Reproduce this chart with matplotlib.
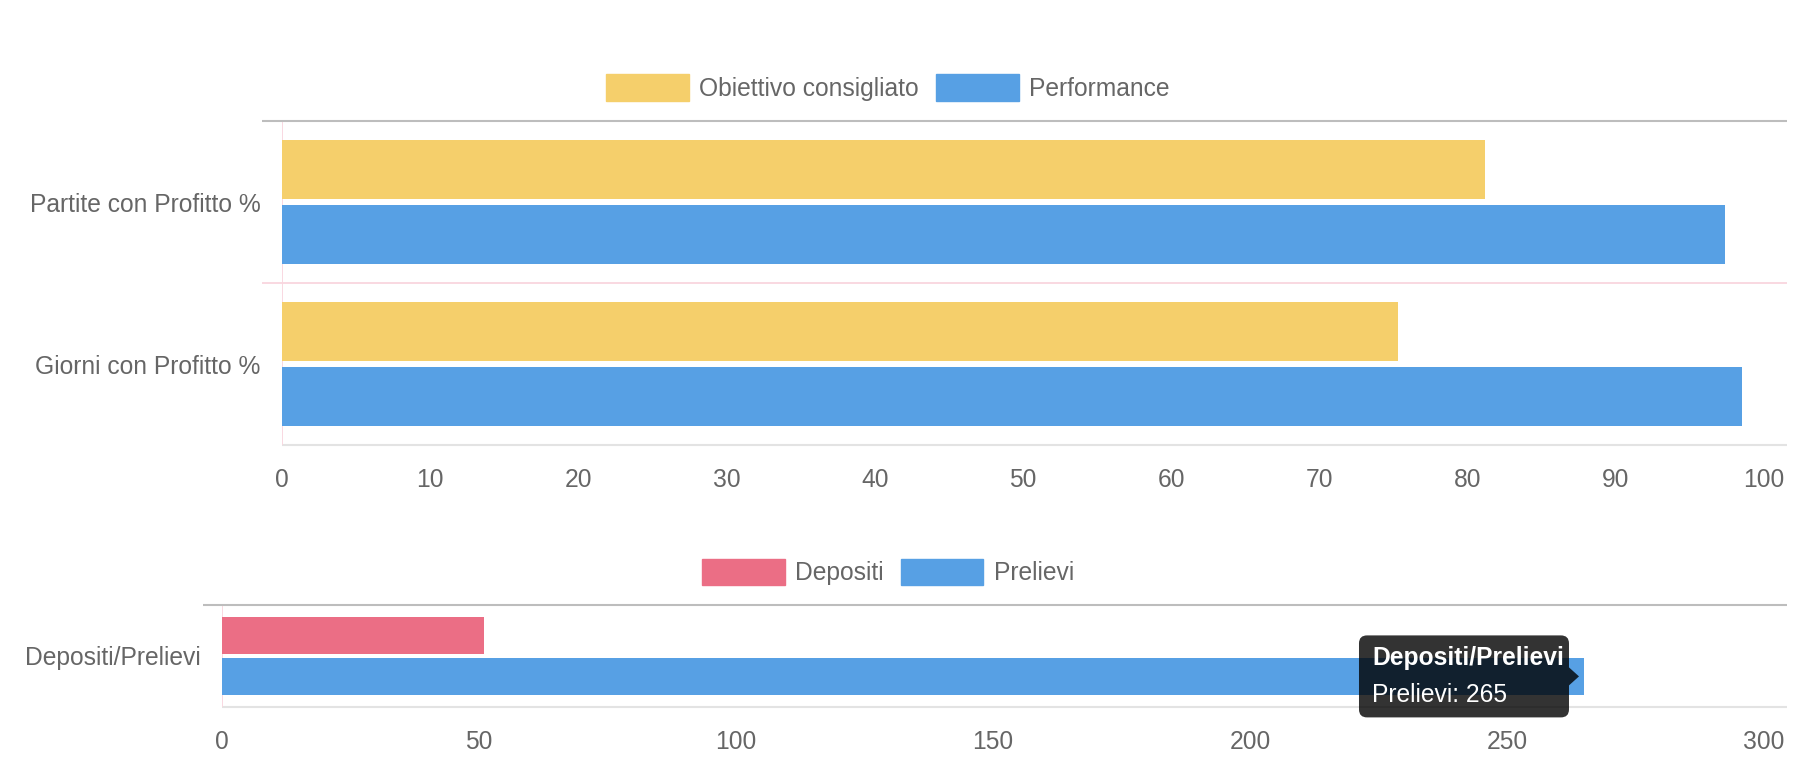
import matplotlib
matplotlib.use("Agg")
import matplotlib.pyplot as plt
from matplotlib.patches import FancyBboxPatch, Polygon, Patch
from matplotlib.transforms import IdentityTransform

plt.rcParams['font.family'] = ['Liberation Sans', 'DejaVu Sans']

# ---- data ----
top_categories = ["Partite con Profitto %", "Giorni con Profitto %"]
top_series_names = ["Obiettivo consigliato", "Performance"]
obiettivo = [81.2, 75.3]
performance = [97.4, 98.5]
top_ticks = [0, 10, 20, 30, 40, 50, 60, 70, 80, 90, 100]

bottom_categories = ["Depositi/Prelievi"]
bottom_series_names = ["Depositi", "Prelievi"]
depositi = [51]
prelievi = [265]
bottom_ticks = [0, 50, 100, 150, 200, 250, 300]

tooltip_title = "Depositi/Prelievi"
tooltip_body = "Prelievi: 265"

# ---- style ----
YELLOW = "#F5CF6B"
BLUE = "#57A0E4"
RED = "#EB6E85"
TEXT = "#666666"
TOPLINE = "#BDBDBD"
PINK = "#F9D6DE"
BOTLINE = "#E3E3E3"
FS = 17.7

W, H = 1820, 782
fig = plt.figure(figsize=(W / 100, H / 100), dpi=100)


def px_axes(left, right, top, bottom):
    return fig.add_axes([left / W, 1 - bottom / H, (right - left) / W, (bottom - top) / H])


def style_axis(ax, n_cat, xmax, ticks, tickext):
    ax.set_xlim(0, xmax)
    ax.set_ylim(n_cat - 0.5, -0.5)
    for s in ax.spines.values():
        s.set_visible(False)
    ax.set_xticks(ticks)
    ax.tick_params(axis='x', length=0, pad=16.5, labelsize=FS, labelcolor=TEXT)
    ax.tick_params(axis='y', length=0, pad=15.5, labelsize=FS, labelcolor=TEXT)
    tr = ax.get_yaxis_transform()
    # top border line (extends to left like tick mark)
    ax.plot([-tickext, 1], [-0.5, -0.5], transform=tr, color=TOPLINE, lw=1.5,
            clip_on=False, solid_capstyle='butt', zorder=3)
    # category separators
    for k in range(1, n_cat):
        ax.plot([-tickext, 1], [k - 0.5, k - 0.5], transform=tr, color=PINK, lw=1.3,
                clip_on=False, solid_capstyle='butt', zorder=1)
    # bottom axis line
    ax.plot([0, 1], [n_cat - 0.5, n_cat - 0.5], transform=tr, color=BOTLINE, lw=1.5,
            clip_on=False, solid_capstyle='butt', zorder=1)
    # zero line
    ax.axvline(0, color=PINK, lw=1.3, zorder=1)


slot = 0.4
bh = 0.36

# ---- top chart ----
ax1 = px_axes(282, 1787, 121, 445)
y1 = list(range(len(top_categories)))
ax1.barh([y - slot / 2 for y in y1], obiettivo, height=bh, color=YELLOW,
         label=top_series_names[0], zorder=2)
ax1.barh([y + slot / 2 for y in y1], performance, height=bh, color=BLUE,
         label=top_series_names[1], zorder=2)
ax1.set_yticks(y1)
ax1.set_yticklabels(top_categories)
style_axis(ax1, len(top_categories), 101.55, top_ticks, 20 / 1505)

# ---- bottom chart ----
ax2 = px_axes(222, 1787, 605, 707)
y2 = list(range(len(bottom_categories)))
ax2.barh([y - slot / 2 for y in y2], depositi, height=bh, color=RED,
         label=bottom_series_names[0], zorder=2)
ax2.barh([y + slot / 2 for y in y2], prelievi, height=bh, color=BLUE,
         label=bottom_series_names[1], zorder=2)
ax2.set_yticks(y2)
ax2.set_yticklabels(bottom_categories)
style_axis(ax2, len(bottom_categories), 304.5, bottom_ticks, 19 / 1565)

# ---- legends ----
leg_kw = dict(loc='center', ncol=2, frameon=False, fontsize=FS,
              handlelength=3.36, handleheight=1.3, handletextpad=0.42,
              columnspacing=0.7, borderpad=0, labelcolor=TEXT)
fig.legend(handles=[Patch(color=YELLOW, label=top_series_names[0]),
                    Patch(color=BLUE, label=top_series_names[1])],
           bbox_to_anchor=(888 / W, 1 - 87.5 / H), **leg_kw)
fig.legend(handles=[Patch(color=RED, label=bottom_series_names[0]),
                    Patch(color=BLUE, label=bottom_series_names[1])],
           bbox_to_anchor=(888 / W, 1 - 572 / H), **leg_kw)

# ---- tooltip ----
tip_x, tip_y = ax2.transData.transform((prelievi[0], y2[0] + slot / 2))
tip_x -= 5
bw, bhh = 210, 82
x0 = tip_x - 10 - bw
y0 = tip_y - bhh / 2
ident = IdentityTransform()
box = FancyBboxPatch((x0, y0), bw, bhh, boxstyle="round,pad=0,rounding_size=8",
                     transform=ident, facecolor=(0, 0, 0, 0.8), edgecolor='none',
                     zorder=10)
fig.patches.append(box)
arrow = Polygon([(x0 + bw, tip_y + 9), (tip_x, tip_y), (x0 + bw, tip_y - 9)],
                closed=True, transform=ident, facecolor=(0, 0, 0, 0.8),
                edgecolor='none', zorder=10)
fig.patches.append(arrow)
fig.text(x0 + 13, tip_y + 18, tooltip_title, transform=ident, color='white',
         fontsize=FS, fontweight='bold', va='center', ha='left', zorder=11)
fig.text(x0 + 13, tip_y - 19, tooltip_body, transform=ident, color='white',
         fontsize=FS, va='center', ha='left', zorder=11)

fig.savefig("out.png", dpi=100)
